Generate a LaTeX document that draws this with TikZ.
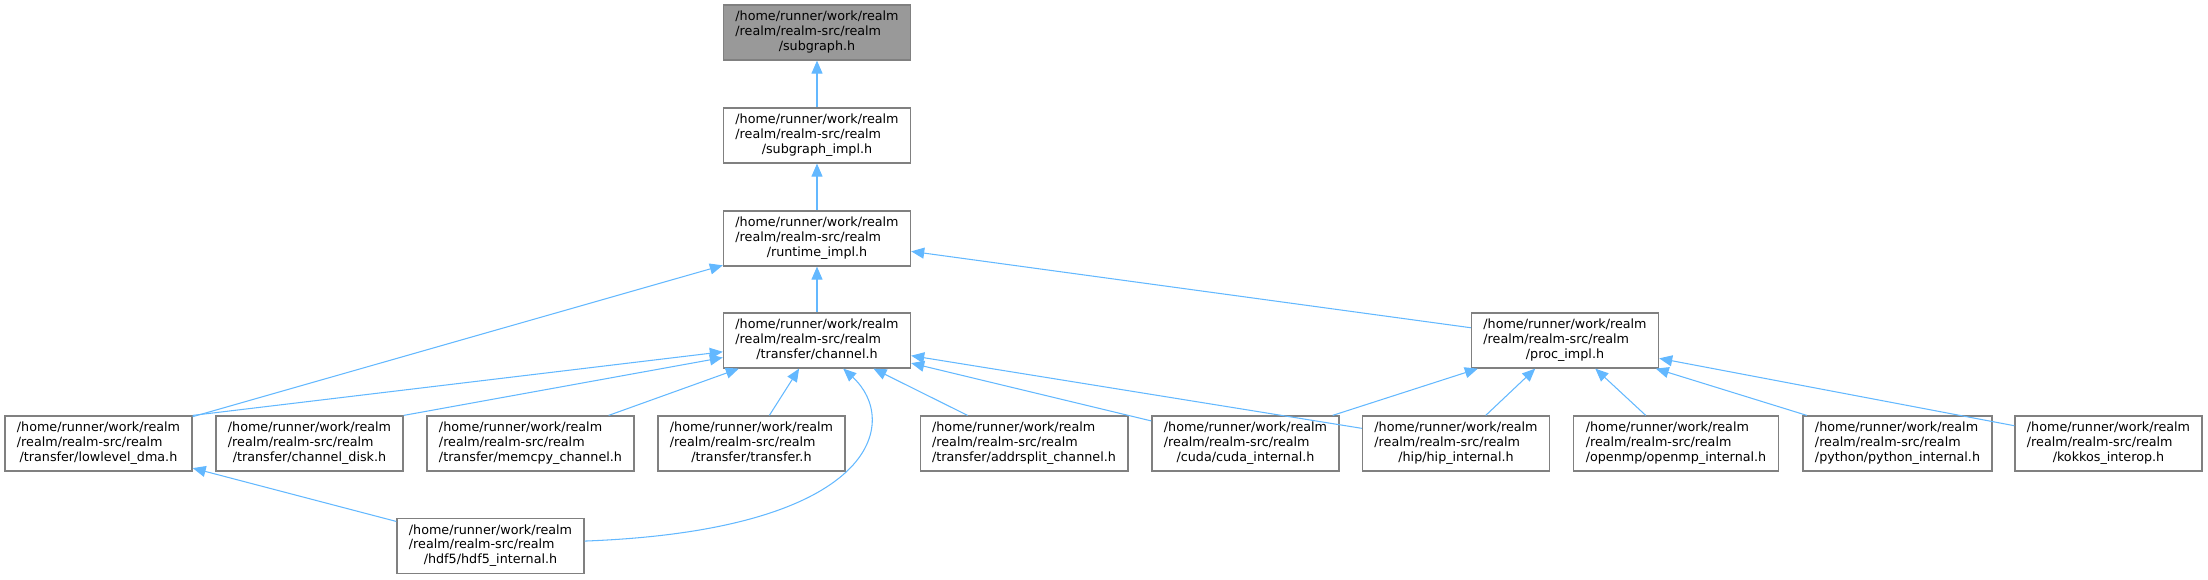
\documentclass[tikz,border=0pt]{standalone}
\usepackage{xcolor}
\usepackage{fontspec}
\setmainfont{DejaVu Sans}
\usepackage{tikz}
\usetikzlibrary{positioning}
\usetikzlibrary{arrows.meta}

\definecolor{linkblue}{HTML}{63B8FF}
\definecolor{boxgray}{HTML}{808080}
\definecolor{curgray}{HTML}{999999}

\newcommand{\realmfile}[1]{\begin{tabular}{@{}l@{}}/home/runner/work/realm\\/realm/realm-src/realm\\\multicolumn{1}{@{}c@{}}{#1}\end{tabular}}

\begin{document}
\begin{tikzpicture}[x=0.02cm,y=-0.02cm,>={Triangle[length=0.26cm,width=0.22cm]},
  file/.style={draw=boxgray,line width=0.7pt,fill=white,inner xsep=0.24cm,inner ysep=0pt,
    minimum height=1.1cm,font=\fontsize{7.25}{8.35}\selectfont},
  dep/.style={<-,draw=linkblue,line width=0.6pt}]
\useasboundingbox (0,0) rectangle (2208,579);
\node[file,fill=curgray] at (817,32.5) (subgraph) {\realmfile{/subgraph.h}};
\node[file] at (817,135.5) (subgraphimpl) {\realmfile{/subgraph\_impl.h}};
\node[file] at (817,238.5) (runtime) {\realmfile{/runtime\_impl.h}};
\node[file] at (817,340.5) (channel) {\realmfile{/transfer/channel.h}};
\node[file] at (1565,340.5) (proc) {\realmfile{/proc\_impl.h}};
\node[file] at (98.5,443.5) (lowlevel) {\realmfile{/transfer/lowlevel\_dma.h}};
\node[file] at (309.5,443.5) (chdisk) {\realmfile{/transfer/channel\_disk.h}};
\node[file] at (530.5,443.5) (memcpy) {\realmfile{/transfer/memcpy\_channel.h}};
\node[file] at (751.5,443.5) (transfer) {\realmfile{/transfer/transfer.h}};
\node[file] at (1024,443.5) (addrsplit) {\realmfile{/transfer/addrsplit\_channel.h}};
\node[file] at (1245.5,443.5) (cuda) {\realmfile{/cuda/cuda\_internal.h}};
\node[file] at (1456,443.5) (hip) {\realmfile{/hip/hip\_internal.h}};
\node[file] at (1676,443.5) (openmp) {\realmfile{/openmp/openmp\_internal.h}};
\node[file] at (1897.5,443.5) (python) {\realmfile{/python/python\_internal.h}};
\node[file] at (2108.5,443.5) (kokkos) {\realmfile{/kokkos\_interop.h}};
\node[file] at (490.5,546) (hdf5) {\realmfile{/hdf5/hdf5\_internal.h}};
\draw[dep] (subgraph) -- (subgraphimpl);
\draw[dep] (subgraphimpl) -- (runtime);
\draw[dep] (runtime) -- (channel);
\draw[dep] (runtime) -- (lowlevel);
\draw[dep] (runtime) -- (proc);
\draw[dep] (channel) -- (lowlevel.north east);
\draw[dep] (channel) -- (chdisk.north east);
\draw[dep] (channel) -- (memcpy);
\draw[dep] (channel) -- (transfer);
\draw[dep] (channel.-47) .. controls (900,420) and (880,530) .. (hdf5.3);
\draw[dep] (channel) -- (addrsplit);
\draw[dep] (channel) -- (cuda);
\draw[dep] (channel) -- (hip);
\draw[dep] (proc) -- (cuda);
\draw[dep] (proc) -- (hip);
\draw[dep] (proc) -- (openmp);
\draw[dep] (proc) -- (python);
\draw[dep] (proc) -- (kokkos);
\draw[dep] (lowlevel) -- (hdf5);
\end{tikzpicture}
\end{document}
